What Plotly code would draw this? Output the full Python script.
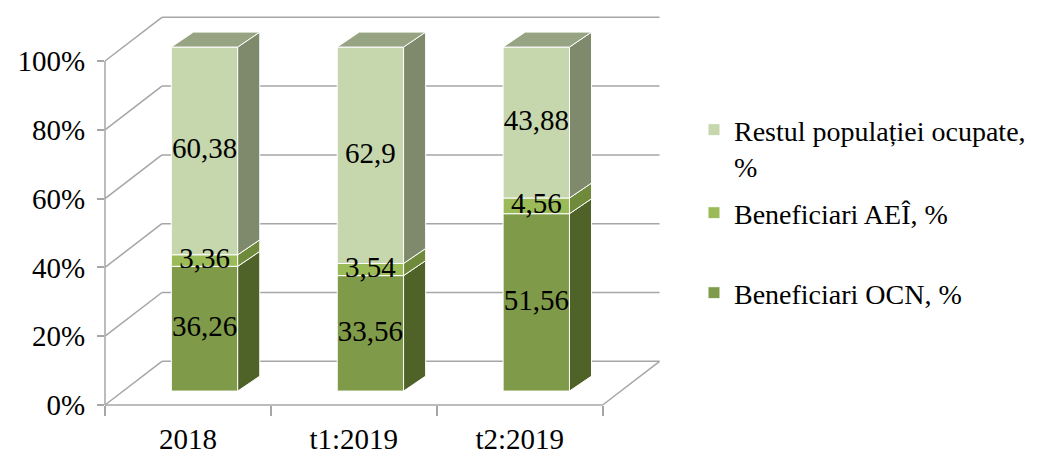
import numpy as np
import plotly.graph_objects as go

categories = ["2018", "t1:2019", "t2:2019"]
ocn = [36.26, 33.56, 51.56]
aei = [3.36, 3.54, 4.56]
rest = [60.38, 62.9, 43.88]
y_ticks = [0, 20, 40, 60, 80, 100]

FONT = "Liberation Serif"
FS = 29
GRID = "#a6a6a6"
TOP_COLOR = "#97a483"

# (name, values, front colour, side colour, legend id)
series = [
    ("Beneficiari OCN, %", ocn, "#7f9a48", "#4f6228", "legend3"),
    ("Beneficiari AEÎ, %", aei, "#9bbb59", "#6e8a3a", "legend2"),
    ("Restul populației ocupate,<br>%", rest, "#c6d6ad", "#7e8a6b", "legend"),
]

# fake 3D: x offsets in category units, y offsets in %
WALL_DX, WALL_DY = 0.343, 12.7
BAR_DX, BAR_DY = 0.1, 4.05
DEPTH_DX, DEPTH_DY = 0.133, 4.35
BAR_W = 0.4

X_RANGE = [-0.5, 2.9]
Y_RANGE = [0, 113.95]


def px(x):
    return (x - X_RANGE[0]) / (X_RANGE[1] - X_RANGE[0])


def py(y):
    return (y - Y_RANGE[0]) / (Y_RANGE[1] - Y_RANGE[0])


def seg(x0, y0, x1, y1):
    return dict(type="line", xref="paper", yref="paper",
                x0=px(x0), y0=py(y0), x1=px(x1), y1=py(y1),
                line=dict(color=GRID, width=1.5), layer="below")


def face(xs, ys, color):
    return go.Scatter(x=xs, y=ys, mode="lines", fill="toself", fillcolor=color,
                      line=dict(color="white", width=1), showlegend=False,
                      hoverinfo="skip")


fig = go.Figure()

idx = np.arange(len(categories))
xb = idx + BAR_DX
base = np.full(len(categories), BAR_DY)
label_x, label_y, label_t = [], [], []
for name, vals, front, side, leg in series:
    vals = np.array(vals)
    fig.add_trace(go.Bar(
        x=xb, y=vals, base=base, width=BAR_W, name=name, legend=leg,
        marker=dict(color=front, line=dict(color="white", width=1)),
        hoverinfo="skip",
    ))
    for xi, b, v in zip(xb, base, vals):
        x1 = xi + BAR_W / 2
        fig.add_trace(face(
            [x1, x1 + DEPTH_DX, x1 + DEPTH_DX, x1, x1],
            [b, b + DEPTH_DY, b + v + DEPTH_DY, b + v, b], side))
        label_x.append(xi)
        label_y.append(b + v / 2)
        label_t.append(f"{v:g}".replace(".", ","))
    base = base + vals

for xi, top in zip(xb, base):
    x0, x1 = xi - BAR_W / 2, xi + BAR_W / 2
    fig.add_trace(face(
        [x0, x0 + DEPTH_DX, x1 + DEPTH_DX, x1, x0],
        [top, top + DEPTH_DY, top + DEPTH_DY, top, top], TOP_COLOR))

fig.add_trace(go.Scatter(
    x=label_x, y=label_y, text=label_t, mode="text", textposition="middle center",
    textfont=dict(family=FONT, size=FS, color="black"),
    showlegend=False, hoverinfo="skip", cliponaxis=False,
))

# walls, floor and front axes
left, right = -0.5, len(categories) - 0.5
shapes = []
for v in y_ticks:
    shapes.append(seg(left, v, left + WALL_DX, v + WALL_DY))
    shapes.append(seg(left + WALL_DX, v + WALL_DY, right + WALL_DX, v + WALL_DY))
shapes.append(seg(left, 0, left, 100))
shapes.append(seg(left, 0, right, 0))
shapes.append(seg(right, 0, right + WALL_DX, WALL_DY))

legend_common = dict(xref="container", yref="container", x=0.6527, xanchor="left",
                     yanchor="middle", bgcolor="rgba(0,0,0,0)", valign="top",
                     font=dict(family=FONT, size=28, color="black"))

fig.update_layout(
    width=1051, height=453,
    margin=dict(l=97, r=389.6, t=5, b=56, autoexpand=False),
    paper_bgcolor="white", plot_bgcolor="white",
    barmode="overlay",
    font=dict(family=FONT, size=FS, color="black"),
    shapes=shapes,
    xaxis=dict(range=X_RANGE, tickmode="array", tickvals=idx, ticktext=categories,
               ticks="", showgrid=False, zeroline=False, showline=False,
               automargin=False, ticklabelstandoff=14,
               minor=dict(tickmode="array", tickvals=list(np.arange(len(categories) + 1) - 0.5),
                          ticks="outside", ticklen=10, tickwidth=1.5, tickcolor=GRID,
                          showgrid=False)),
    yaxis=dict(range=Y_RANGE, tickmode="array", tickvals=y_ticks,
               ticktext=[f"{v}%" for v in y_ticks],
               ticks="outside", ticklen=7, tickwidth=1.5, tickcolor=GRID,
               showgrid=False, zeroline=False, showline=False,
               automargin=False, ticklabelstandoff=6),
    legend=dict(y=1 - 140 / 453, **legend_common),
    legend2=dict(y=1 - 205 / 453, **legend_common),
    legend3=dict(y=1 - 285 / 453, **legend_common),
)

fig.write_html("out.html")
